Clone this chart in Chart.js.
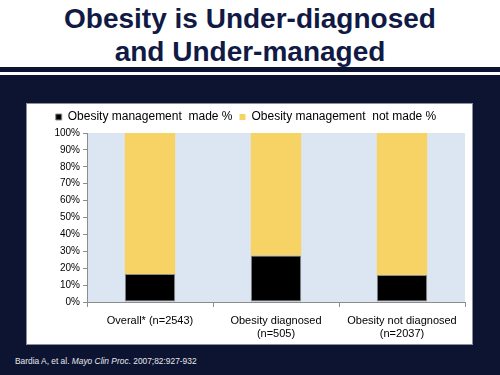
<!DOCTYPE html>
<html>
<head>
<meta charset="utf-8">
<script src="https://cdn.jsdelivr.net/npm/chart.js@4.4.0/dist/chart.umd.min.js"></script>
<style>
  html, body { margin: 0; padding: 0; }
  body { width: 500px; height: 375px; position: relative; overflow: hidden; background: #ffffff; font-family: "Liberation Sans", Arial, sans-serif; }
  #title { position: absolute; left: 0; top: 2px; width: 500px; text-align: center; color: #101a45; font-weight: bold; font-size: 28px; line-height: 33px; }
  #rule { position: absolute; left: 0; top: 67px; width: 500px; height: 5px; background: #0d1431; }
  #panel { position: absolute; left: 0; top: 75px; width: 500px; height: 300px; background: #0d1431; }
  #box { position: absolute; left: 26px; top: 103px; width: 447px; height: 242px; background: #ffffff; border: 1px solid #8a8f99; box-sizing: border-box; }
  #cite { position: absolute; left: 15px; top: 356px; color: #e6e8ee; font-size: 8.4px; }
</style>
</head>
<body>
<div id="title">Obesity is Under-diagnosed<br>and Under-managed</div>
<div id="rule"></div>
<div id="panel"></div>
<div id="box"><canvas id="chartCanvas" width="445" height="240"></canvas></div>
<div id="cite">Bardia A, et al. <i>Mayo Clin Proc</i>. 2007;82:927-932</div>

<script>
// ── Data ──
var categories = [['Overall* (n=2543)'], ['Obesity diagnosed', '(n=505)'], ['Obesity not diagnosed', '(n=2037)']];
var seriesNames = ['Obesity management  made %', 'Obesity management  not made %'];
var madePct = [16.6, 27.5, 16.0];
var notMadePct = [83.4, 72.5, 84.0];
var yTicks = [0, 10, 20, 30, 40, 50, 60, 70, 80, 90, 100];

// ── Plot background ──
var plotBg = {
  id: 'plotBg',
  beforeDraw: function(chart) {
    var a = chart.chartArea;
    var ctx = chart.ctx;
    ctx.save();
    ctx.fillStyle = '#dce6f2';
    ctx.fillRect(a.left, a.top, a.right - a.left, a.bottom - a.top);
    ctx.restore();
  }
};

var ctx = document.getElementById('chartCanvas').getContext('2d');
new Chart(ctx, {
  type: 'bar',
  data: {
    labels: categories,
    datasets: [
      {
        label: seriesNames[0],
        data: madePct,
        backgroundColor: '#000000',
        borderColor: '#8c8c8c',
        borderWidth: 1,
        borderSkipped: false
      },
      {
        label: seriesNames[1],
        data: notMadePct,
        backgroundColor: '#f7d264',
        borderWidth: 0
      }
    ]
  },
  options: {
    responsive: false,
    animation: false,
    barPercentage: 0.4,
    categoryPercentage: 1.0,
    layout: { padding: { left: 0, right: 7, top: 0, bottom: 0 } },
    plugins: {
      legend: {
        position: 'top',
        labels: {
          boxWidth: 6,
          boxHeight: 6,
          color: '#000000',
          font: { family: '"Liberation Sans", Arial, sans-serif', size: 12 },
          padding: 7
        }
      },
      tooltip: { enabled: false }
    },
    scales: {
      x: {
        stacked: true,
        grid: { drawOnChartArea: false, drawTicks: true, tickLength: 5, color: '#8c8c8c', offset: true },
        border: { color: '#8c8c8c' },
        ticks: { color: '#000000', font: { family: '"Liberation Sans", Arial, sans-serif', size: 11 }, padding: 7, maxRotation: 0 },
        afterFit: function(scale) { scale.height = 42; }
      },
      y: {
        stacked: true,
        min: 0,
        max: 100,
        afterBuildTicks: function(scale) {
          scale.ticks = yTicks.map(function(v) { return { value: v }; });
        },
        grid: { drawOnChartArea: false, drawTicks: true, tickLength: 4, color: '#8c8c8c' },
        border: { color: '#8c8c8c' },
        ticks: {
          color: '#000000',
          font: { family: '"Liberation Sans", Arial, sans-serif', size: 10 },
          padding: 3,
          callback: function(v) { return v + '%'; }
        },
        afterFit: function(scale) { scale.width = 60; }
      }
    }
  },
  plugins: [plotBg]
});
</script>
</body>
</html>
